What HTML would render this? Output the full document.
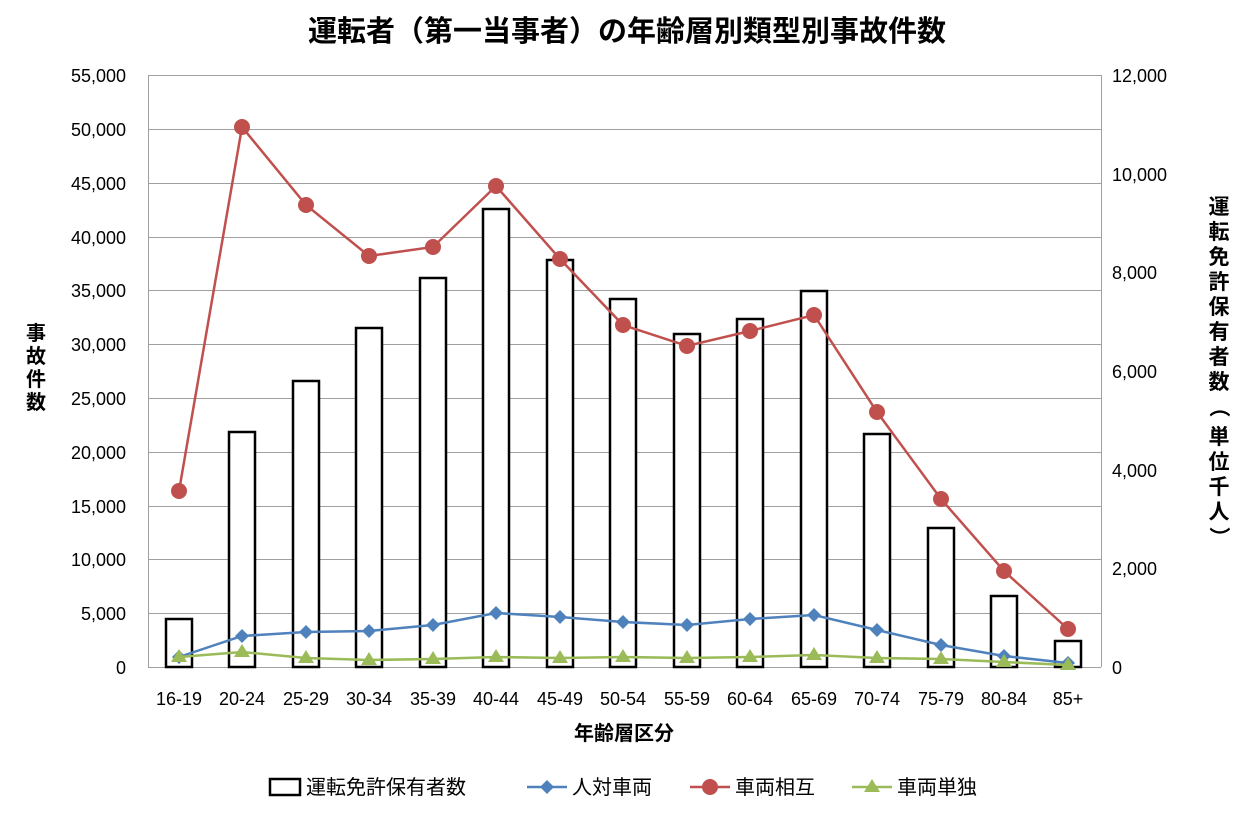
<!DOCTYPE html>
<html><head><meta charset="utf-8"><style>
body{margin:0;background:#fff;}
svg text{font-family:"Liberation Sans","Noto Sans CJK JP",sans-serif;}
</style></head><body>
<svg width="1244" height="813" xmlns="http://www.w3.org/2000/svg">
<rect width="1244" height="813" fill="#fff"/>
<text x="627" y="41" text-anchor="middle" font-size="29" font-weight="bold" fill="#000">運転者（第一当事者）の年齢層別類型別事故件数</text>
<g stroke="#a0a0a0" stroke-width="1">
<line x1="148" y1="75.5" x2="1101" y2="75.5"/>
<line x1="148" y1="129.5" x2="1101" y2="129.5"/>
<line x1="148" y1="183.5" x2="1101" y2="183.5"/>
<line x1="148" y1="237.5" x2="1101" y2="237.5"/>
<line x1="148" y1="290.5" x2="1101" y2="290.5"/>
<line x1="148" y1="344.5" x2="1101" y2="344.5"/>
<line x1="148" y1="398.5" x2="1101" y2="398.5"/>
<line x1="148" y1="452.5" x2="1101" y2="452.5"/>
<line x1="148" y1="506.5" x2="1101" y2="506.5"/>
<line x1="148" y1="559.5" x2="1101" y2="559.5"/>
<line x1="148" y1="613.5" x2="1101" y2="613.5"/>
<line x1="148" y1="667.5" x2="1101" y2="667.5"/>
<line x1="148.5" y1="75" x2="148.5" y2="667"/>
<line x1="1101.5" y1="75" x2="1101.5" y2="667"/>
</g>
<g font-size="18" fill="#000" text-anchor="end">
<text x="126" y="82">55,000</text><text x="126" y="136">50,000</text><text x="126" y="190">45,000</text><text x="126" y="244">40,000</text><text x="126" y="297">35,000</text><text x="126" y="351">30,000</text><text x="126" y="405">25,000</text><text x="126" y="459">20,000</text><text x="126" y="513">15,000</text><text x="126" y="566">10,000</text><text x="126" y="620">5,000</text><text x="126" y="674">0</text>
</g>
<g font-size="18" fill="#000" text-anchor="start">
<text x="1112" y="82">12,000</text><text x="1112" y="181">10,000</text><text x="1112" y="279">8,000</text><text x="1112" y="378">6,000</text><text x="1112" y="477">4,000</text><text x="1112" y="575">2,000</text><text x="1112" y="674">0</text>
</g>
<g fill="#fff" stroke="#000" stroke-width="2.5">
<rect x="166" y="619" width="26" height="48"/>
<rect x="229" y="432" width="26" height="235"/>
<rect x="293" y="381" width="26" height="286"/>
<rect x="356" y="328" width="26" height="339"/>
<rect x="420" y="278" width="26" height="389"/>
<rect x="483" y="209" width="26" height="458"/>
<rect x="547" y="260" width="26" height="407"/>
<rect x="610" y="299" width="26" height="368"/>
<rect x="674" y="334" width="26" height="333"/>
<rect x="737" y="319" width="26" height="348"/>
<rect x="801" y="291" width="26" height="376"/>
<rect x="864" y="434" width="26" height="233"/>
<rect x="928" y="528" width="26" height="139"/>
<rect x="991" y="596" width="26" height="71"/>
<rect x="1055" y="641" width="26" height="26"/>
</g>
<polyline fill="none" stroke="#c0504d" stroke-width="2.5" points="179,491 242,127 306,205 369,256 433,247 496,186 560,259 623,325 687,346 750,331 814,315 877,412 941,499 1004,571 1068,629"/>
<g fill="#c0504d"><circle cx="179" cy="491" r="8"/><circle cx="242" cy="127" r="8"/><circle cx="306" cy="205" r="8"/><circle cx="369" cy="256" r="8"/><circle cx="433" cy="247" r="8"/><circle cx="496" cy="186" r="8"/><circle cx="560" cy="259" r="8"/><circle cx="623" cy="325" r="8"/><circle cx="687" cy="346" r="8"/><circle cx="750" cy="331" r="8"/><circle cx="814" cy="315" r="8"/><circle cx="877" cy="412" r="8"/><circle cx="941" cy="499" r="8"/><circle cx="1004" cy="571" r="8"/><circle cx="1068" cy="629" r="8"/></g>
<polyline fill="none" stroke="#4f81bd" stroke-width="2.5" points="179,657 242,636 306,632 369,631 433,625 496,613 560,617 623,622 687,625 750,619 814,615 877,630 941,645 1004,656 1068,663"/>
<g fill="#4f81bd">
<path d="M179,650l7,7l-7,7l-7,-7z"/><path d="M242,629l7,7l-7,7l-7,-7z"/><path d="M306,625l7,7l-7,7l-7,-7z"/><path d="M369,624l7,7l-7,7l-7,-7z"/><path d="M433,618l7,7l-7,7l-7,-7z"/><path d="M496,606l7,7l-7,7l-7,-7z"/><path d="M560,610l7,7l-7,7l-7,-7z"/><path d="M623,615l7,7l-7,7l-7,-7z"/><path d="M687,618l7,7l-7,7l-7,-7z"/><path d="M750,612l7,7l-7,7l-7,-7z"/><path d="M814,608l7,7l-7,7l-7,-7z"/><path d="M877,623l7,7l-7,7l-7,-7z"/><path d="M941,638l7,7l-7,7l-7,-7z"/><path d="M1004,649l7,7l-7,7l-7,-7z"/><path d="M1068,656l7,7l-7,7l-7,-7z"/>
</g>
<polyline fill="none" stroke="#9bbb59" stroke-width="2.5" points="179,657 242,652 306,658 369,660 433,659 496,657 560,658 623,657 687,658 750,657 814,655 877,658 941,659 1004,662 1068,665"/>
<g fill="#9bbb59">
<path d="M179,649l8,13h-16z"/><path d="M242,644l8,13h-16z"/><path d="M306,650l8,13h-16z"/><path d="M369,652l8,13h-16z"/><path d="M433,651l8,13h-16z"/><path d="M496,649l8,13h-16z"/><path d="M560,650l8,13h-16z"/><path d="M623,649l8,13h-16z"/><path d="M687,650l8,13h-16z"/><path d="M750,649l8,13h-16z"/><path d="M814,647l8,13h-16z"/><path d="M877,650l8,13h-16z"/><path d="M941,651l8,13h-16z"/><path d="M1004,654l8,13h-16z"/><path d="M1068,657l8,13h-16z"/>
</g>
<g font-size="18" fill="#000" text-anchor="middle">
<text x="179" y="705">16-19</text><text x="242" y="705">20-24</text><text x="306" y="705">25-29</text><text x="369" y="705">30-34</text><text x="433" y="705">35-39</text><text x="496" y="705">40-44</text><text x="560" y="705">45-49</text><text x="623" y="705">50-54</text><text x="687" y="705">55-59</text><text x="750" y="705">60-64</text><text x="814" y="705">65-69</text><text x="877" y="705">70-74</text><text x="941" y="705">75-79</text><text x="1004" y="705">80-84</text><text x="1068" y="705">85+</text>
</g>
<text x="624" y="740" text-anchor="middle" font-size="20" font-weight="bold">年齢層区分</text>
<g font-size="20" font-weight="bold" text-anchor="middle">
<text x="36" y="340">事</text><text x="36" y="363">故</text><text x="36" y="386">件</text><text x="36" y="409">数</text>
</g>
<g font-size="21" font-weight="bold" text-anchor="middle">
<text x="1219" y="214">運</text><text x="1219" y="239">転</text><text x="1219" y="264">免</text><text x="1219" y="289">許</text><text x="1219" y="314">保</text><text x="1219" y="339">有</text><text x="1219" y="364">者</text><text x="1219" y="389">数</text><text x="1219" y="414" transform="rotate(90 1219 407)">（</text><text x="1219" y="444">単</text><text x="1219" y="469">位</text><text x="1219" y="494">千</text><text x="1219" y="519">人</text><text x="1219" y="544" transform="rotate(90 1219 537)">）</text>
</g>
<g font-size="20">
<rect x="270" y="779" width="30" height="16" fill="#fff" stroke="#000" stroke-width="2.5"/>
<text x="306" y="794">運転免許保有者数</text>
<line x1="527" y1="787" x2="567" y2="787" stroke="#4f81bd" stroke-width="2.5"/>
<path d="M547,780l7,7l-7,7l-7,-7z" fill="#4f81bd"/>
<text x="572" y="794">人対車両</text>
<line x1="690" y1="787" x2="730" y2="787" stroke="#c0504d" stroke-width="2.5"/>
<circle cx="710" cy="787" r="8" fill="#c0504d"/>
<text x="735" y="794">車両相互</text>
<line x1="852" y1="787" x2="892" y2="787" stroke="#9bbb59" stroke-width="2.5"/>
<path d="M872,779l8,13h-16z" fill="#9bbb59"/>
<text x="897" y="794">車両単独</text>
</g>
</svg>
</body></html>
